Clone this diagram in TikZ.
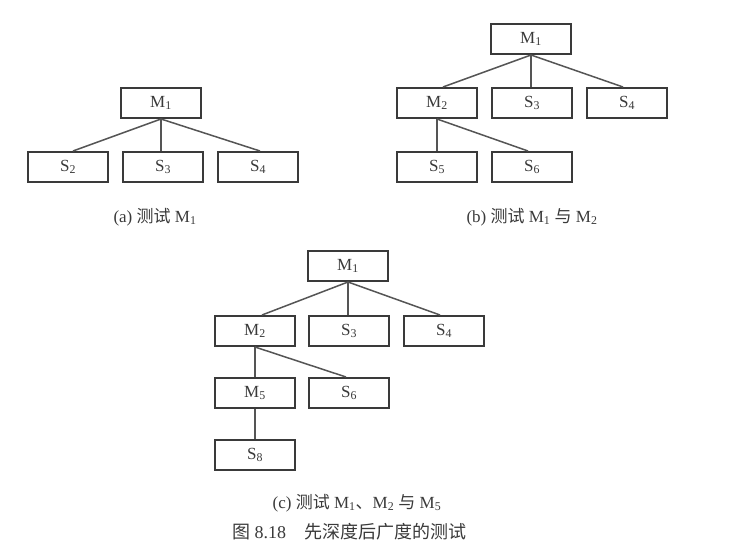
\documentclass[tikz,border=0pt]{standalone}
\usepackage{fontspec}
\setmainfont{Liberation Serif}
\newfontfamily\cjk{Noto Sans CJK SC}
\definecolor{ink}{HTML}{3A3A3A}
\definecolor{wire}{HTML}{555555}
\newcommand{\Sb}[2]{#1\textsubscript{#2}}
\begin{document}
\begin{tikzpicture}[x=1pt,y=-1pt,
  mbox/.style={draw=ink,line width=2pt,minimum width=80pt,minimum height=30pt,inner sep=0pt,
    text=ink,font=\fontsize{17}{19}\selectfont},
  wirel/.style={draw=wire,line width=1.5pt},
  subcap/.style={text=ink,font=\fontsize{17}{19}\selectfont},
  figcap/.style={text=ink,font=\fontsize{18}{20}\selectfont}]
\useasboundingbox[fill=white] (0,0) rectangle (729,556);
% (a)
\node[mbox] (M1a) at (161,103) {\Sb{M}{1}};
\node[mbox] (S2a) at (68,167) {\Sb{S}{2}};
\node[mbox] (S3a) at (163,167) {\Sb{S}{3}};
\node[mbox] (S4a) at (258,167) {\Sb{S}{4}};
\draw[wirel] (M1a.south) -- ([xshift=5pt]S2a.north);
\draw[wirel] (M1a.south) -- (M1a.south |- S3a.north);
\draw[wirel] (M1a.south) -- ([xshift=2pt]S4a.north);
\node[subcap] (capa) at (155,217) {(a)\ {\cjk 测试} \Sb{M}{1}};
% (b)
\node[mbox] (M1b) at (531,39) {\Sb{M}{1}};
\node[mbox] (M2b) at (437,103) {\Sb{M}{2}};
\node[mbox] (S3b) at (532,103) {\Sb{S}{3}};
\node[mbox] (S4b) at (627,103) {\Sb{S}{4}};
\node[mbox] (S5b) at (437,167) {\Sb{S}{5}};
\node[mbox] (S6b) at (532,167) {\Sb{S}{6}};
\draw[wirel] (M1b.south) -- ([xshift=6pt]M2b.north);
\draw[wirel] (M1b.south) -- (M1b.south |- S3b.north);
\draw[wirel] (M1b.south) -- ([xshift=-4pt]S4b.north);
\draw[wirel] (M2b.south) -- (S5b.north);
\draw[wirel] (M2b.south) -- ([xshift=-4pt]S6b.north);
\node[subcap] (capb) at (532,217) {(b)\ {\cjk 测试} \Sb{M}{1} {\cjk 与} \Sb{M}{2}};
% (c)
\node[mbox] (M1c) at (348,266) {\Sb{M}{1}};
\node[mbox] (M2c) at (255,331) {\Sb{M}{2}};
\node[mbox] (S3c) at (349,331) {\Sb{S}{3}};
\node[mbox] (S4c) at (444,331) {\Sb{S}{4}};
\node[mbox] (M5c) at (255,393) {\Sb{M}{5}};
\node[mbox] (S6c) at (349,393) {\Sb{S}{6}};
\node[mbox] (S8c) at (255,455) {\Sb{S}{8}};
\draw[wirel] (M1c.south) -- ([xshift=7pt]M2c.north);
\draw[wirel] (M1c.south) -- (M1c.south |- S3c.north);
\draw[wirel] (M1c.south) -- ([xshift=-4pt]S4c.north);
\draw[wirel] (M2c.south) -- (M5c.north);
\draw[wirel] (M2c.south) -- ([xshift=-3pt]S6c.north);
\draw[wirel] (M5c.south) -- (S8c.north);
\node[subcap] (capc) at (357,503) {(c)\ {\cjk 测试} \Sb{M}{1}{\cjk 、}\Sb{M}{2} {\cjk 与} \Sb{M}{5}};
\node[figcap] (fig) at (349,532) {{\cjk 图} 8.18\quad{\cjk 先深度后广度的测试}};
\end{tikzpicture}
\end{document}
